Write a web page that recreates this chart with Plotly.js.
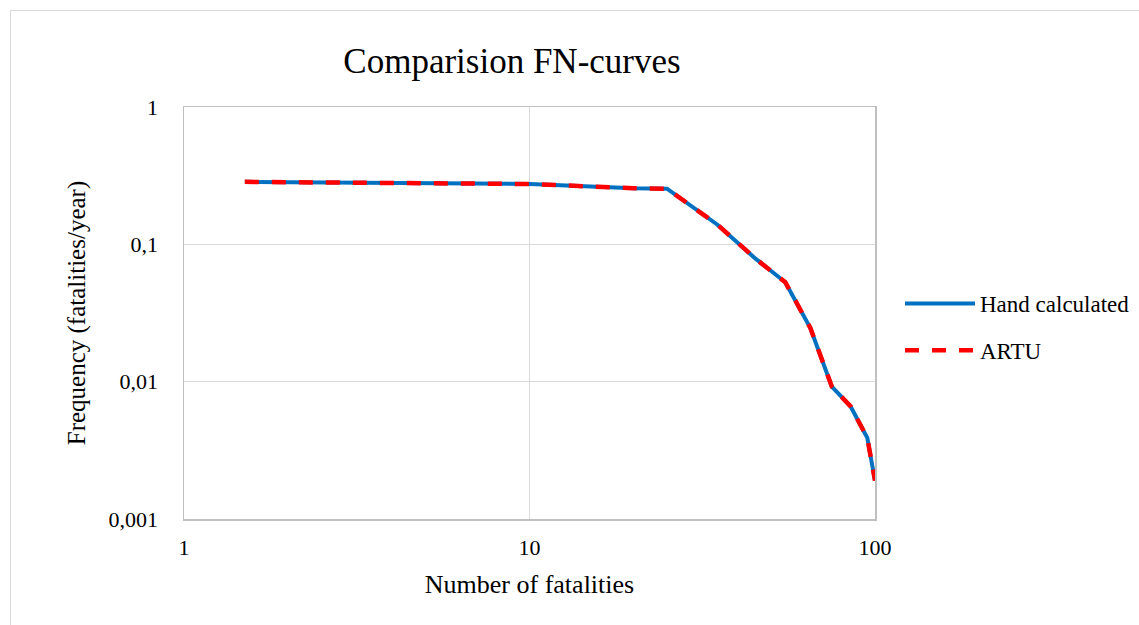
<!DOCTYPE html>
<html>
<head>
<meta charset="utf-8">
<script src="https://cdn.plot.ly/plotly-3.0.1.min.js"></script>
<style>
  html, body { margin: 0; padding: 0; background: #ffffff; overflow: hidden; }
  #frame { position: absolute; left: 10px; top: 10px; width: 1200px; height: 700px;
           border: 1px solid #d9d9d9; box-sizing: border-box; }
  #chart { position: absolute; left: 0; top: 0; width: 1139px; height: 625px; }
</style>
</head>
<body>
<div id="frame"></div>
<div id="chart"></div>
<script>
// Number of fatalities (N) and cumulative frequency of N or more fatalities per year
const fatalities = [1.5, 10, 20, 25, 35, 45, 55, 65, 75, 85, 95, 100];
const handCalculated = [0.285, 0.275, 0.256, 0.254, 0.139, 0.079, 0.053, 0.0246, 0.0092, 0.0066, 0.0039, 0.0019];
const artu = [0.285, 0.275, 0.256, 0.254, 0.139, 0.079, 0.053, 0.0246, 0.0092, 0.0066, 0.0039, 0.0019];

// Axis ticks (decimal comma)
const xTickVals = [1, 10, 100];
const xTickText = ['1', '10', '100'];
const yTickVals = [0.001, 0.01, 0.1, 1];
const yTickText = ['0,001', '0,01', '0,1', '1'];

const FONT = 'Liberation Serif';

const traces = [
  {
    x: fatalities, y: handCalculated, name: 'Hand calculated',
    type: 'scatter', mode: 'lines', legendgroup: 'a',
    line: { color: '#0070c0', width: 4 }
  },
  {
    x: fatalities, y: artu, name: 'ARTU',
    type: 'scatter', mode: 'lines', legendgroup: 'b',
    line: { color: '#ff0000', width: 4.5, dash: '14px,13px' }
  }
];

const layout = {
  width: 1139, height: 625,
  paper_bgcolor: 'rgba(0,0,0,0)',
  plot_bgcolor: '#ffffff',
  margin: { l: 183.5, r: 264, t: 107, b: 106 },
  font: { family: FONT, color: '#000000', size: 22 },
  title: {
    text: 'Comparision FN-curves',
    font: { family: FONT, size: 35, color: '#000000' },
    xref: 'container', x: 512 / 1139, xanchor: 'center',
    yref: 'container', y: 1 - 61 / 625, yanchor: 'middle'
  },
  xaxis: {
    type: 'log', range: [0, 2],
    tickvals: xTickVals, ticktext: xTickText,
    showgrid: true, gridcolor: '#d9d9d9', gridwidth: 1.5,
    showline: true, linecolor: '#bfbfbf', linewidth: 1.5, mirror: true,
    ticks: '', ticklabelstandoff: 8,
    tickfont: { family: FONT, size: 22, color: '#000000' },
    zeroline: false,
    title: { text: 'Number of fatalities', standoff: 16,
             font: { family: FONT, size: 26, color: '#000000' } }
  },
  yaxis: {
    type: 'log', range: [-3, 0],
    tickvals: yTickVals, ticktext: yTickText,
    showgrid: true, gridcolor: '#d9d9d9', gridwidth: 1.5,
    showline: true, linecolor: '#bfbfbf', linewidth: 1.5, mirror: true,
    ticks: '', ticklabelstandoff: 20,
    tickfont: { family: FONT, size: 22, color: '#000000' },
    zeroline: false,
    title: { text: 'Frequency (fatalities/year)', standoff: 16,
             font: { family: FONT, size: 25, color: '#000000' } }
  },
  showlegend: true,
  legend: {
    xref: 'container', yref: 'container',
    x: 900 / 1139, y: 1 - 282 / 625, xanchor: 'left', yanchor: 'top',
    font: { family: FONT, size: 23, color: '#000000' },
    bgcolor: 'rgba(0,0,0,0)', borderwidth: 0,
    traceorder: 'grouped', tracegroupgap: 14, itemwidth: 70
  }
};

Plotly.newPlot('chart', traces, layout, { displayModeBar: false, staticPlot: true });
</script>
</body>
</html>
